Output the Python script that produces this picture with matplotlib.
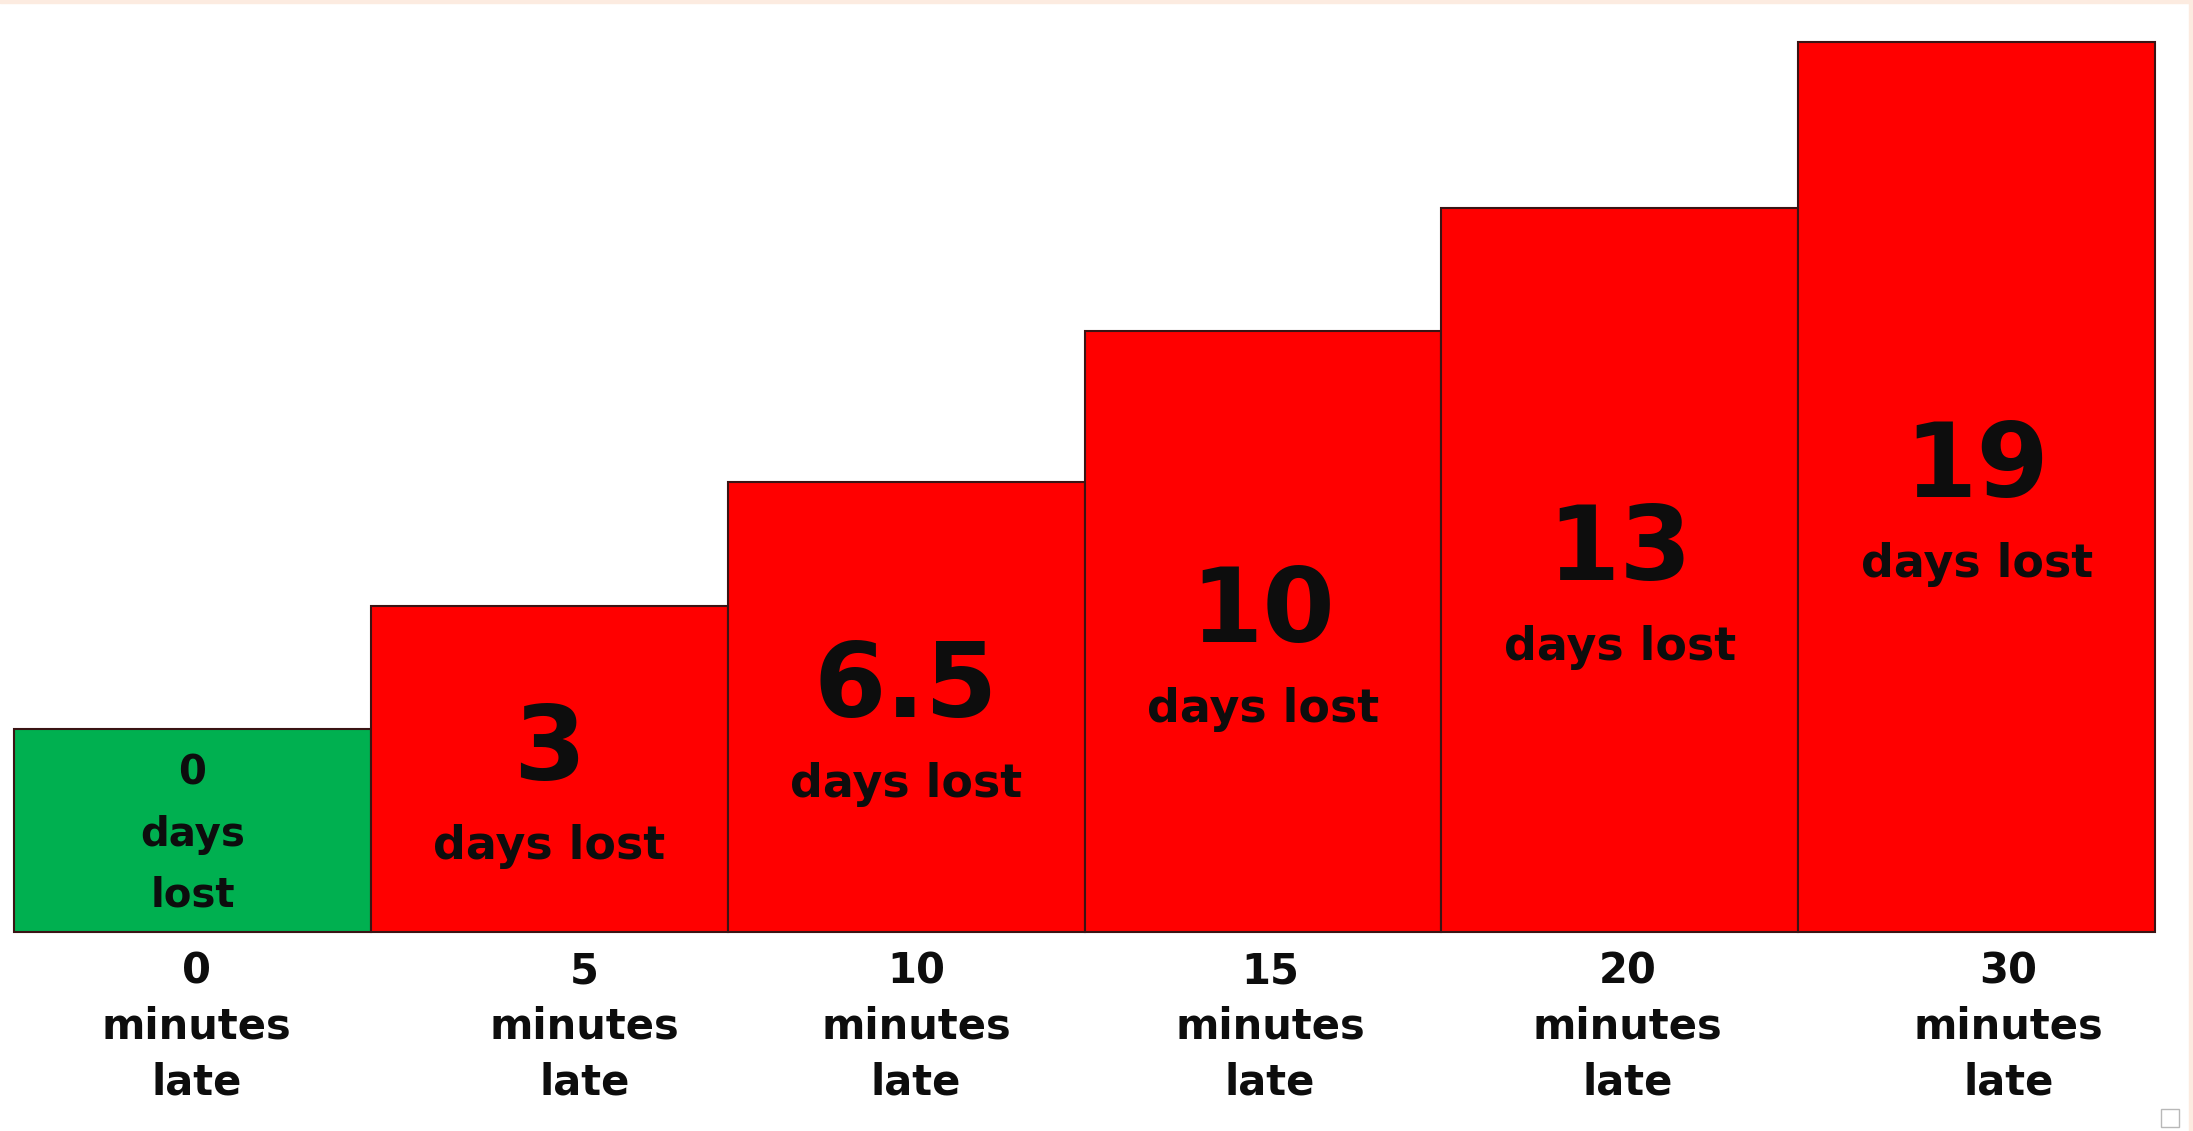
"""Step chart: days lost vs minutes late."""

import matplotlib

matplotlib.use("Agg")
import matplotlib.pyplot as plt
import numpy as np
from matplotlib.patches import Rectangle
from matplotlib.transforms import ScaledTranslation

minutes_late = [0, 5, 10, 15, 20, 30]
days_lost = ["0", "3", "6.5", "10", "13", "19"]
# bar heights as drawn in the picture (relative units, not to scale with days)
bar_height = [2.28, 3.66, 5.06, 6.75, 8.14, 10.0]
bar_colors = ["#00B050", "#FF0000", "#FF0000", "#FF0000", "#FF0000", "#FF0000"]

W, H, DPI = 2193, 1131, 100
TEXT = "#0d0d0d"


def main():
    fig = plt.figure(figsize=(W / DPI, H / DPI), dpi=DPI)
    fig.patch.set_facecolor("white")

    # axes frame in pixels: x 14..2155, bottom at 932, top of tallest bar at 42
    ax = fig.add_axes([14 / W, (H - 932) / H, 2141 / W, 890 / H])
    x = np.arange(len(minutes_late))
    bars = ax.bar(x, bar_height, width=1.0, color=bar_colors,
                  edgecolor="#3a1414", linewidth=1.5)
    for b in bars:
        b.set_clip_on(False)
    ax.set_xlim(-0.5, len(x) - 0.5)
    ax.set_ylim(0, max(bar_height))

    for i, (h, d) in enumerate(zip(bar_height, days_lost)):
        if i == 0:
            ax.annotate(f"{d}\ndays\nlost", (i, h / 2), xytext=(0, -3),
                        textcoords="offset points", ha="center", va="center",
                        fontsize=29, fontweight="bold", color=TEXT,
                        linespacing=1.68)
            continue
        ax.annotate(d, (i, h / 2), xytext=(0, 13), textcoords="offset points",
                    ha="center", va="center", fontsize=75, fontweight="bold",
                    color=TEXT)
        ax.annotate("days lost", (i, h / 2), xytext=(0, -56),
                    textcoords="offset points", ha="center", va="center",
                    fontsize=33, fontweight="bold", color=TEXT)

    ax.set_xticks(x, [f"{m}\nminutes\nlate" for m in minutes_late])
    ax.tick_params(axis="x", length=0, pad=13, labelsize=30)
    nudge_px = [4, 35, 10, 7, 8, 32]
    for lbl, dx in zip(ax.get_xticklabels(), nudge_px):
        lbl.set_fontweight("bold")
        lbl.set_color(TEXT)
        lbl.set_linespacing(1.42)
        lbl.set_transform(lbl.get_transform()
                          + ScaledTranslation(dx / DPI, 0, fig.dpi_scale_trans))
    ax.set_yticks([])
    for spine in ax.spines.values():
        spine.set_visible(False)

    # thin peach frame at the top and right edge, and the little box corner
    peach = "#fcebe0"
    fig.patches.append(Rectangle((0, 1 - 3 / H), 1, 3 / H,
                                 transform=fig.transFigure, color=peach))
    fig.patches.append(Rectangle((1 - 4 / W, 0), 4 / W, 1,
                                 transform=fig.transFigure, color=peach))
    fig.patches.append(Rectangle((2161 / W, 4 / H), 18 / W, 18 / H,
                                 transform=fig.transFigure, fill=False,
                                 edgecolor="#b8b8b8", linewidth=1))

    fig.savefig("out.png", dpi=DPI)
    plt.close(fig)


if __name__ == "__main__":
    main()
